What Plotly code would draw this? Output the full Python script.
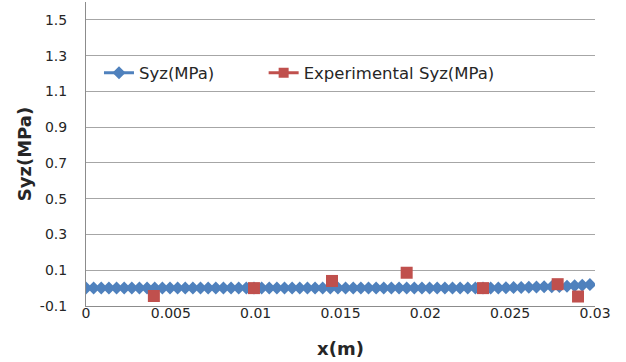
import plotly.graph_objects as go

# Simulated Syz along x
x_sim = [0, 0.00045, 0.0009, 0.00135, 0.0018, 0.00225, 0.0027, 0.00315, 0.0036, 0.00405,
         0.0045, 0.00495, 0.0054, 0.00585, 0.0063, 0.00675, 0.0072, 0.00765, 0.0081, 0.00855,
         0.009, 0.00945, 0.0099, 0.01035, 0.0108, 0.01125, 0.0117, 0.01215, 0.0126, 0.01305,
         0.0135, 0.01395, 0.0144, 0.01485, 0.0153, 0.01575, 0.0162, 0.01665, 0.0171, 0.01755,
         0.018, 0.01845, 0.0189, 0.01935, 0.0198, 0.02025, 0.0207, 0.02115, 0.0216, 0.02205,
         0.0225, 0.02295, 0.0234, 0.02385, 0.0243, 0.02475, 0.0252, 0.02565, 0.0261, 0.02655,
         0.027, 0.02745, 0.0279, 0.02835, 0.0288, 0.02925, 0.0297]
y_sim = [0.0, 0.0, 0.0, 0.0, 0.0, 0.0, 0.0, 0.0, 0.0, 0.0,
         0.0, 0.0, 0.0, 0.0, 0.0, 0.0, 0.0, 0.0, 0.0, 0.0,
         0.0, 0.0, 0.0, 0.0, 0.0, 0.0, 0.0, 0.0, 0.0, 0.0,
         0.0, 0.0, 0.0, 0.0, 0.0, 0.0, 0.0, 0.0, 0.0, 0.0,
         0.0, 0.0, 0.0, 0.0, 0.0, 0.0, 0.0, 0.0, 0.0, 0.0,
         0.0, 0.0, 0.0, 0.0, 0.001, 0.002, 0.003, 0.004, 0.005, 0.006,
         0.007, 0.008, 0.009, 0.011, 0.013, 0.016, 0.02]

# Experimental Syz
x_exp = [0.004, 0.0099, 0.0145, 0.0189, 0.0234, 0.0278, 0.029]
y_exp = [-0.044, 0.0, 0.04, 0.086, 0.0, 0.022, -0.047]

name_sim = "Syz(MPa)"
name_exp = "Experimental Syz(MPa)"
x_title = "x(m)"
y_title = "Syz(MPa)"
y_ticks = [-0.1, 0.1, 0.3, 0.5, 0.7, 0.9, 1.1, 1.3, 1.5]
y_labels = ["-0.1", "0.1", "0.3", "0.5", "0.7", "0.9", "1.1", "1.3", "1.5"]
x_ticks = [0, 0.005, 0.01, 0.015, 0.02, 0.025, 0.03]
x_labels = ["0", "0.005", "0.01", "0.015", "0.02", "0.025", "0.03"]

BLUE = "#4F81BD"
RED = "#C0504D"
TXT = "#262626"
GRID = "#a6a6a6"
FONT = "DejaVu Sans, sans-serif"

fig = go.Figure()
fig.add_trace(go.Scatter(
    x=x_sim, y=y_sim, name=name_sim, mode="lines+markers", legend="legend",
    line=dict(color=BLUE, width=3),
    marker=dict(symbol="diamond", size=10, color=BLUE),
))
# legend entry for experimental series (Excel shows a line+marker sample)
fig.add_trace(go.Scatter(
    x=[None], y=[None], name=name_exp, mode="lines+markers", legend="legend2",
    line=dict(color=RED, width=3),
    marker=dict(symbol="square", size=10, color=RED),
))
fig.add_trace(go.Scatter(
    x=x_exp, y=y_exp, name=name_exp, mode="markers", showlegend=False,
    marker=dict(symbol="square", size=12, color=RED),
))

leg_common = dict(orientation="h", yanchor="middle", xanchor="left", y=0.766,
                  bgcolor="white", font=dict(family=FONT, size=16.5, color=TXT))

fig.update_layout(
    width=626, height=362,
    margin=dict(l=86, r=31, t=2, b=56),
    paper_bgcolor="white", plot_bgcolor="white",
    font=dict(family=FONT, size=14, color=TXT),
    showlegend=True,
    legend=dict(x=0.0255, **leg_common),
    legend2=dict(x=0.349, **leg_common),
    xaxis=dict(
        range=[0, 0.03], tickvals=x_ticks, ticktext=x_labels,
        showgrid=False, zeroline=False, automargin=False,
        showline=True, linecolor="#8c8c8c", linewidth=1,
        ticks="", ticklabelstandoff=-6, tickfont=dict(family=FONT, size=14, color=TXT),
        title=dict(text="<b>" + x_title + "</b>", font=dict(family=FONT, size=18, color=TXT), standoff=22),
    ),
    yaxis=dict(
        range=[-0.1, 1.6], tickvals=y_ticks, ticktext=y_labels,
        showgrid=True, gridcolor=GRID, gridwidth=1, zeroline=False, automargin=False,
        showline=True, linecolor="#8c8c8c", linewidth=1,
        ticks="", ticklabelstandoff=15, tickfont=dict(family=FONT, size=14, color=TXT),
        title=dict(text="<b>" + y_title + "</b>", font=dict(family=FONT, size=18, color=TXT), standoff=3),
    ),
)

fig.write_html("out.html", config={"displayModeBar": False},
               post_script="document.body.style.margin='0';")
